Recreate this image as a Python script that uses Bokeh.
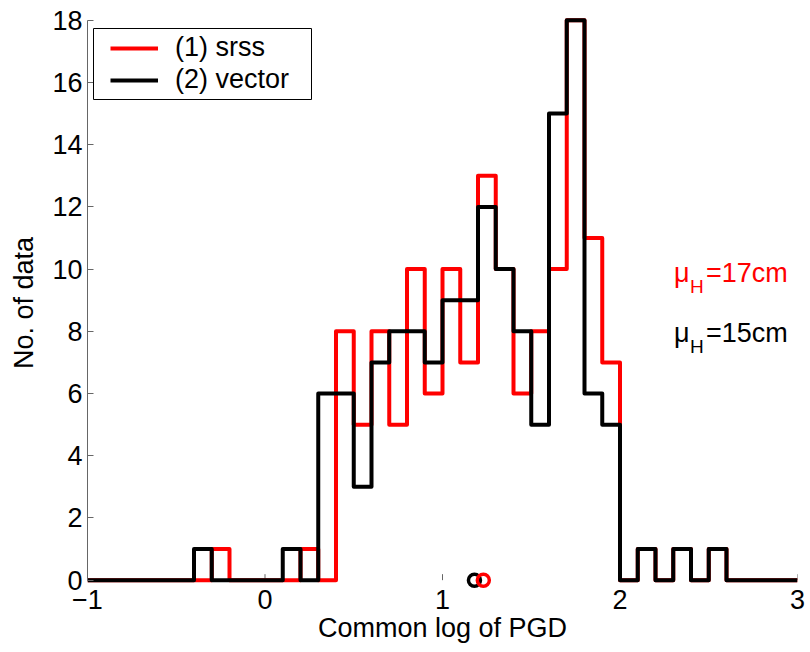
import numpy as np
from bokeh.plotting import figure
from bokeh.models import Range1d, FixedTicker, Legend, LegendItem, Label, BoxAnnotation
from bokeh.embed import file_html
from bokeh.resources import INLINE

# ---- data ----
bin_edges = np.linspace(-1.0, 3.0, 41)          # 0.1-wide bins of log10(PGD)
counts_srss = [0, 0, 0, 0, 0, 0, 0, 1, 0, 0,
               0, 0, 1, 0, 8, 5, 8, 5, 10, 6,
               10, 7, 13, 10, 6, 8, 10, 18, 11, 7,
               0, 1, 0, 1, 0, 1, 0, 0, 0, 0]
counts_vector = [0, 0, 0, 0, 0, 0, 1, 0, 0, 0,
                 0, 1, 0, 6, 6, 3, 7, 8, 8, 7,
                 9, 9, 12, 10, 8, 5, 15, 18, 6, 5,
                 0, 1, 0, 1, 0, 1, 0, 0, 0, 0]
series_labels = ["(1) srss", "(2) vector"]
series_colors = ["#ff0000", "#000000"]
mean_log_pgd = [1.23, 1.18]
mean_texts = ["=17cm", "=15cm"]
x_ticks = [-1, 0, 1, 2, 3]
y_ticks = [0, 2, 4, 6, 8, 10, 12, 14, 16, 18]

FONT = "Liberation Sans"
FS = "27px"
AXIS_GRAY = "#666666"
PX_PER_Y = 573 / 18.42   # frame pixels per y unit

p = figure(frame_width=710, frame_height=573,
           min_border_left=87, min_border_right=13, min_border_top=16, min_border_bottom=63,
           x_range=Range1d(-1, 3), y_range=Range1d(-0.30, 18.12),
           output_backend="svg", toolbar_location=None,
           background_fill_color="white", border_fill_color="white")
p.outline_line_color = None
p.grid.visible = False

# inward x tick marks standing on the zero line
p.segment(x0=x_ticks, y0=[0] * len(x_ticks), x1=x_ticks, y1=[6 / PX_PER_Y] * len(x_ticks),
          line_color=AXIS_GRAY, line_width=1)

# histograms as stairs
step_r = []
for counts, col in zip([counts_srss, counts_vector], series_colors):
    r = p.step(x=bin_edges, y=list(counts) + [counts[-1]], mode="after",
               line_color=col, line_width=4, line_join="round")
    step_r.append(r)

# mean markers (black first, red on top)
for m, col in list(zip(mean_log_pgd, series_colors))[::-1]:
    p.scatter(x=[m], y=[0], marker="circle", size=12, fill_color=None,
              line_color=col, line_width=3.5)

# axes
for ax in (p.xaxis[0], p.yaxis[0]):
    ax.axis_line_color = AXIS_GRAY
    ax.major_tick_line_color = AXIS_GRAY
    ax.major_tick_in = 6
    ax.major_tick_out = 0
    ax.minor_tick_line_color = None
    ax.major_label_text_font = FONT
    ax.major_label_text_font_size = FS
    ax.major_label_text_color = "black"
    ax.axis_label_text_font = FONT
    ax.axis_label_text_font_size = FS
    ax.axis_label_text_font_style = "normal"
    ax.axis_label_text_color = "black"

p.xaxis.ticker = FixedTicker(ticks=x_ticks)
p.xaxis.major_label_overrides = {t: (str(t).replace("-", "\u2212")) for t in x_ticks}
p.xaxis.axis_label = "Common log of PGD"
p.xaxis.axis_line_color = None
p.xaxis.major_tick_line_color = None
p.xaxis.major_tick_in = 0
p.xaxis.major_label_standoff = 0
p.xaxis.axis_label_standoff = 1

p.yaxis.ticker = FixedTicker(ticks=y_ticks)
p.yaxis.bounds = (0, 18)
p.yaxis.axis_label = "No. of data"
p.yaxis.major_label_standoff = 5
p.yaxis.axis_label_standoff = 10

# legend box + legend
p.add_layout(BoxAnnotation(left=93, right=311, top=28, bottom=99,
                           left_units="canvas", right_units="canvas",
                           top_units="canvas", bottom_units="canvas",
                           fill_color="white", fill_alpha=1.0,
                           line_color="black", line_width=1, line_alpha=1.0))
legend = Legend(items=[LegendItem(label=lab, renderers=[r]) for lab, r in zip(series_labels, step_r)],
                location=(23, 494), margin=0, padding=0, spacing=1,
                border_line_color=None, background_fill_alpha=0,
                glyph_width=48, glyph_height=20, label_standoff=17,
                label_text_font=FONT, label_text_font_size=FS, label_text_color="black")
p.add_layout(legend, "center")

# mu_H annotations
text_y = [9.87, 7.94]
for yv, txt, col in zip(text_y, mean_texts, series_colors):
    p.add_layout(Label(x=2.304, y=yv, text="\u03bc", text_color=col, text_baseline="alphabetic",
                       text_font=FONT, text_font_size=FS))
    p.add_layout(Label(x=2.304, y=yv, x_offset=16, y_offset=-13, text="H", text_color=col,
                       text_baseline="alphabetic", text_font=FONT, text_font_size="19px"))
    p.add_layout(Label(x=2.304, y=yv, x_offset=32, text=txt, text_color=col,
                       text_baseline="alphabetic", text_font=FONT, text_font_size=FS))

open("out.html", "w").write(file_html(p, INLINE))
